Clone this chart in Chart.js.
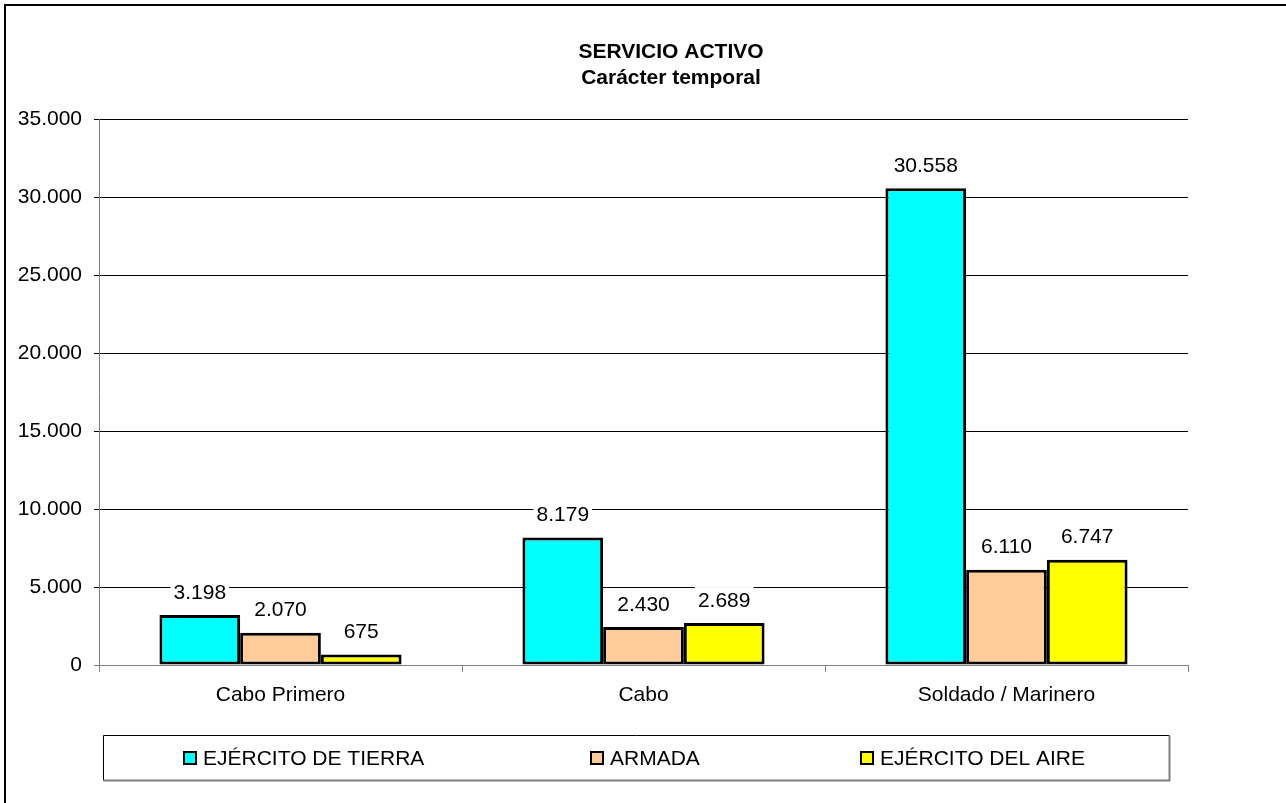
<!DOCTYPE html>
<html>
<head>
<meta charset="utf-8">
<script src="https://cdn.jsdelivr.net/npm/chart.js@4"></script>
<style>
  body { margin: 0; background: #fff; }
  #wrap { width: 1286px; height: 803px; }
</style>
</head>
<body>
<div id="wrap"><canvas id="myChart" width="1286" height="803"></canvas></div>
<script>
const categories = ["Cabo Primero", "Cabo", "Soldado / Marinero"];
const ejercitoTierra = [3198, 8179, 30558];
const armada = [2070, 2430, 6110];
const ejercitoAire = [675, 2689, 6747];
const seriesNames = ["EJÉRCITO DE TIERRA", "ARMADA", "EJÉRCITO DEL AIRE"];
const titleLines = ["SERVICIO ACTIVO", "Carácter temporal"];
const yMin = 0;
const yMax = 35000;
const yStep = 5000;

const FONT = '"Liberation Sans", Arial, sans-serif';
Chart.defaults.font.family = FONT;
Chart.defaults.font.size = 21;
Chart.defaults.color = "#000";

let ctx = document.querySelector("#myChart");

// 30558 -> "30.558"
function fmt(v) {
  return String(v).replace(/\B(?=(\d{3})+(?!\d))/g, ".");
}

// marco, título y leyenda dibujados a mano (estilo Excel)
const excelDecor = {
  id: "excelDecor",
  beforeDraw(chart) {
    const c = chart.ctx;
    c.save();
    c.fillStyle = "#fff";
    c.fillRect(0, 0, chart.width, chart.height);
    c.restore();
  },
  afterDatasetsDraw(chart) {
    const c = chart.ctx;
    c.save();
    c.font = "21px " + FONT;
    c.textAlign = "center";
    c.textBaseline = "alphabetic";
    chart.data.datasets.forEach((ds, i) => {
      const meta = chart.getDatasetMeta(i);
      meta.data.forEach((bar, j) => {
        const txt = fmt(ds.data[j]);
        const w = c.measureText(txt).width;
        const cy = bar.y - 24;
        c.fillStyle = "#fff";
        c.fillRect(bar.x - w / 2 - 3, cy - 12, w + 6, 24);
        c.fillStyle = "#000";
        c.fillText(txt, bar.x, cy + 7.5);
      });
    });
    c.restore();
  },
  afterDraw(chart) {
    const c = chart.ctx;
    c.save();
    // marco del gráfico (se sale por la derecha y por abajo)
    const frame = { x: 5, y: 5, w: 1332, h: 900 };
    c.strokeStyle = "#000";
    c.lineWidth = 2;
    c.strokeRect(frame.x, frame.y, frame.w, frame.h);

    // título
    c.fillStyle = "#000";
    c.textAlign = "center";
    c.font = "bold 21px " + FONT;
    const cx = frame.x + frame.w / 2;
    c.fillText(titleLines[0], cx, 57.5);
    c.fillText(titleLines[1], cx, 83.5);

    // leyenda
    const box = { l: 103.5, t: 735.5, r: 1169.5, b: 780.5 };
    c.lineWidth = 1;
    c.strokeStyle = "#000";
    c.beginPath();
    c.moveTo(box.l, box.b);
    c.lineTo(box.l, box.t);
    c.lineTo(box.r, box.t);
    c.stroke();
    c.strokeStyle = "#808080";
    c.lineWidth = 2;
    c.beginPath();
    c.moveTo(box.r, box.t);
    c.lineTo(box.r, box.b);
    c.lineTo(box.l, box.b);
    c.stroke();

    const itemX = [183, 590, 860];
    c.font = "21px " + FONT;
    c.textAlign = "left";
    chart.data.datasets.forEach((ds, i) => {
      const x = itemX[i];
      c.fillStyle = ds.backgroundColor;
      c.fillRect(x, 751, 14, 14);
      c.strokeStyle = "#000";
      c.lineWidth = 2;
      c.strokeRect(x + 1, 752, 12, 12);
      c.fillStyle = "#000";
      c.fillText(ds.label, x + 20, 765);
    });
    c.restore();
  },
};

new Chart(ctx, {
  type: "bar",
  data: {
    labels: categories,
    datasets: [
      {
        label: seriesNames[0],
        data: ejercitoTierra,
        backgroundColor: "#00FFFF",
      },
      {
        label: seriesNames[1],
        data: armada,
        backgroundColor: "#FFCC99",
      },
      {
        label: seriesNames[2],
        data: ejercitoAire,
        backgroundColor: "#FFFF00",
      },
    ],
  },
  options: {
    responsive: false,
    animation: false,
    datasets: {
      bar: {
        categoryPercentage: 0.667,
        barPercentage: 1,
        borderColor: "#000",
        borderWidth: 3,
        borderSkipped: false,
      },
    },
    layout: {
      padding: { top: 119, right: 98, bottom: 97, left: 0 },
    },
    plugins: {
      legend: { display: false },
      title: { display: false },
      tooltip: { enabled: false },
    },
    scales: {
      x: {
        afterFit(scale) {
          scale.height = 41;
        },
        grid: {
          offset: true,
          drawOnChartArea: false,
          color: "#808080",
          tickLength: 7,
        },
        border: { color: "#808080", width: 1 },
        ticks: { padding: 11, font: { size: 21 } },
      },
      y: {
        min: yMin,
        max: yMax,
        afterFit(scale) {
          scale.width = 99;
        },
        grid: {
          color: (c) => (c.tick && c.tick.value === 0 ? "#808080" : "#000"),
          tickLength: 5,
        },
        border: { color: "#808080", width: 1 },
        ticks: {
          stepSize: yStep,
          padding: 12,
          font: { size: 21 },
          callback: (v) => fmt(v),
        },
      },
    },
  },
  plugins: [excelDecor],
});
</script>
</body>
</html>
